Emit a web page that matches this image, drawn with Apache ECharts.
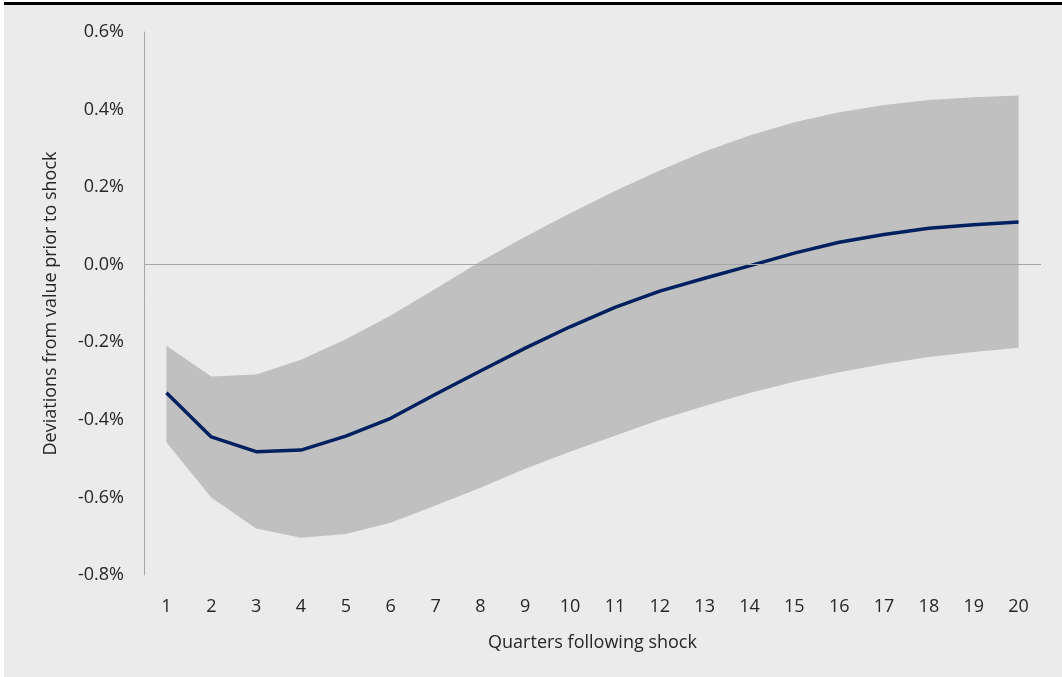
<!DOCTYPE html>
<html>
<head>
<meta charset="utf-8">
<script src="https://cdn.jsdelivr.net/npm/echarts@6/dist/echarts.min.js"></script>
<style>
  html, body { margin: 0; padding: 0; background: #ffffff; width: 1062px; height: 677px; overflow: hidden; }
  #frame { position: absolute; left: 4px; top: 2px; width: 1058px; height: 675px; background: #ebebeb; border-top: 3px solid #000; box-sizing: border-box; }
  #chart { position: absolute; left: 0; top: 0; width: 1058px; height: 672px; }
</style>
</head>
<body>
<div id="frame"><div id="chart"></div></div>
<script>
// Quarters following shock
const quarters = ['1','2','3','4','5','6','7','8','9','10','11','12','13','14','15','16','17','18','19','20'];
// Central estimate (%)
const central = [-0.330, -0.444, -0.482, -0.478, -0.442, -0.396, -0.334, -0.274, -0.215, -0.160, -0.110, -0.068, -0.035, -0.003, 0.030, 0.058, 0.078, 0.094, 0.103, 0.110];
// Upper bound of confidence band (%)
const upper = [-0.209, -0.288, -0.283, -0.245, -0.192, -0.131, -0.062, 0.008, 0.072, 0.133, 0.190, 0.243, 0.292, 0.333, 0.367, 0.393, 0.412, 0.425, 0.432, 0.436];
// Lower bound of confidence band (%)
const lower = [-0.458, -0.600, -0.680, -0.704, -0.694, -0.665, -0.621, -0.575, -0.526, -0.482, -0.441, -0.400, -0.364, -0.331, -0.302, -0.277, -0.256, -0.238, -0.225, -0.214];
// Y-axis tick values (%)
const yTicks = [-0.8, -0.6, -0.4, -0.2, 0.0, 0.2, 0.4, 0.6];

const bandWidth = upper.map((u, i) => +(u - lower[i]).toFixed(4));

const FONT = '"Open Sans", "Liberation Sans", sans-serif';
const chart = echarts.init(document.getElementById('chart'), null, { renderer: 'canvas' });
chart.setOption({
  backgroundColor: '#ebebeb',
  animation: false,
  grid: { left: 140, top: 27, right: 21, bottom: 102, containLabel: false },
  xAxis: {
    type: 'category',
    data: quarters,
    boundaryGap: true,
    name: 'Quarters following shock',
    nameLocation: 'middle',
    nameGap: 59,
    nameTextStyle: { fontFamily: FONT, fontSize: 18, color: '#262626' },
    axisLine: { show: false },
    axisTick: { show: false },
    axisLabel: { fontFamily: FONT, fontSize: 18, color: '#262626', margin: 23 },
    splitLine: { show: false }
  },
  yAxis: {
    type: 'value',
    min: yTicks[0],
    max: yTicks[yTicks.length - 1],
    interval: 0.2,
    name: 'Deviations from value prior to shock',
    nameLocation: 'middle',
    nameGap: 84,
    nameTextStyle: { fontFamily: FONT, fontSize: 18, color: '#262626' },
    axisLine: { show: true, lineStyle: { color: '#a6a6a6', width: 1 } },
    axisTick: { show: false },
    splitLine: { show: false },
    axisLabel: {
      fontFamily: FONT, fontSize: 18, color: '#262626', margin: 20,
      formatter: v => v.toFixed(1) + '%'
    }
  },
  series: [
    {
      name: 'lower', type: 'line', data: lower, stack: 'band', stackStrategy: 'all',
      symbol: 'none', lineStyle: { opacity: 0 }, silent: true, z: 1
    },
    {
      name: 'band', type: 'line', data: bandWidth, stack: 'band', stackStrategy: 'all',
      symbol: 'none', lineStyle: { opacity: 0 }, areaStyle: { color: '#c0c0c0', opacity: 1 },
      silent: true, z: 1,
      markLine: {
        silent: true, symbol: 'none', label: { show: false },
        lineStyle: { color: '#a6a6a6', width: 1, type: 'solid' },
        data: [{ yAxis: 0 }]
      }
    },
    {
      name: 'central', type: 'line', data: central, symbol: 'none',
      lineStyle: { color: '#002060', width: 3.5 }, z: 3
    }
  ]
});
</script>
</body>
</html>
